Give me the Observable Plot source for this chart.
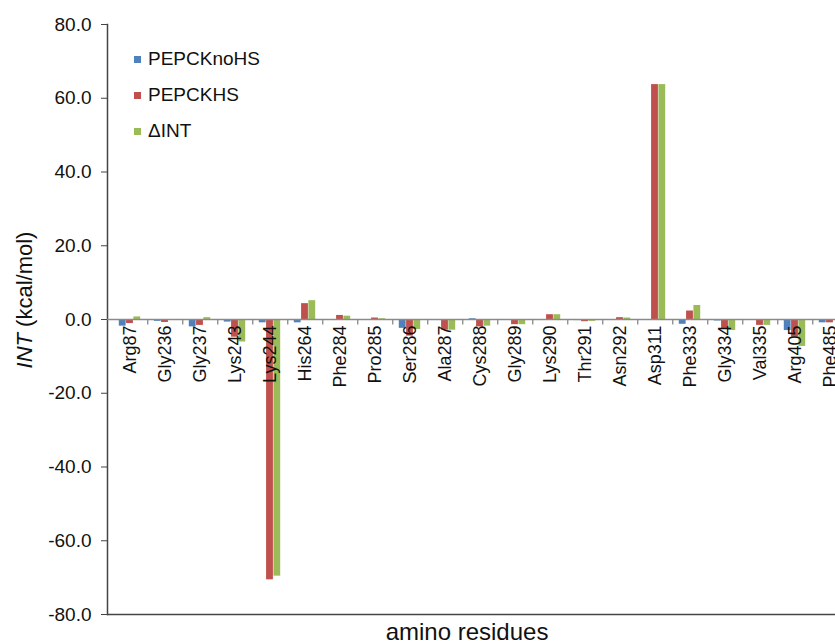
<!DOCTYPE html>
<html><head><meta charset="utf-8">
<script src="https://cdn.jsdelivr.net/npm/d3@7"></script>
<script src="https://cdn.jsdelivr.net/npm/@observablehq/plot@0.6"></script>
<style>
html,body{margin:0;padding:0;background:#fff;overflow:hidden;}
#wrap{position:relative;width:835px;height:642px;overflow:hidden;}
.legend{position:absolute;left:134px;top:41px;font:19px "Liberation Sans",Arial,sans-serif;color:#111;}
.legend .row{display:flex;align-items:center;height:36px;}
.legend .sw{display:inline-block;width:7px;height:7px;margin-right:7px;}
</style></head><body><div id="wrap"></div>
<script>
const residues = ["Arg87","Gly236","Gly237","Lys243","Lys244","His264","Phe284","Pro285","Ser286","Ala287","Cys288","Gly289","Lys290","Thr291","Asn292","Asp311","Phe333","Gly334","Val335","Arg405","Phe485"];
const seriesNames = ["PEPCKnoHS","PEPCKHS","ΔINT"];
const noHS = [-1.8,-0.5,-2.0,-0.7,-0.9,-0.9,-0.2,-0.1,-2.4,-0.1,0.2,-0.2,-0.1,-0.3,-0.1,-0.1,-1.3,-0.4,-0.1,-3.0,-0.9];
const hs   = [-1.1,-0.8,-1.6,-4.8,-70.6,4.3,1.1,0.4,-4.5,-2.9,-2.0,-1.4,1.3,-0.6,0.5,63.7,2.3,-2.7,-1.6,-4.8,-0.9];
const dInt = [0.7,-0.2,0.5,-6.1,-69.6,5.1,0.9,0.2,-2.7,-2.9,-1.8,-1.4,1.3,-0.5,0.4,63.7,3.8,-3.0,-1.6,-7.3,0.0];
const yTicks = [-80,-60,-40,-20,0,20,40,60,80];
const colors = ["#4F81BD","#C0504D","#9BBB59"];

const values = [noHS, hs, dInt];
const data = residues.flatMap((r, i) => seriesNames.map((s, k) => ({residue: r, series: s, value: values[k][i]})));

const W = 835, H = 642, mLeft = 107, xEnd = 852, mTop = 24, mBottom = 28;
const step = (xEnd - mLeft) / residues.length;
const barW = 7.3;
const inset = (step - barW) / 2;
const font = '"Liberation Sans", Arial, sans-serif';

const plot = Plot.plot({
  width: W, height: H,
  marginLeft: mLeft, marginRight: 0, marginTop: mTop, marginBottom: mBottom,
  style: {fontFamily: font, fontSize: "19px", background: "white", color: "#111"},
  x: {domain: residues, range: [mLeft, xEnd], padding: 0, axis: null},
  y: {domain: [-80, 80], axis: null},
  color: {domain: seriesNames, range: colors},
  marks: [
    Plot.axisY({ticks: yTicks, tickFormat: d => d.toFixed(1), tickSize: 6, tickPadding: 10, label: null, stroke: "#444", fontSize: 19}),
    Plot.frame({anchor: "left", stroke: "#444", strokeWidth: 1.5}),
    Plot.ruleY([-80], {stroke: "#444", strokeWidth: 1.5}),
    ...seriesNames.map((s, k) => Plot.barY(data.filter(d => d.series === s), {
      x: "residue", y: "value", fill: "series", insetLeft: inset, insetRight: inset, dx: (k - 1) * barW
    })),
    Plot.ruleY([0], {stroke: "#8a8a8a", strokeWidth: 1.5}),
    Plot.ruleX(residues, {x: d => d, y1: 0, y2: -1.5, dx: step / 2, stroke: "#8a8a8a", strokeWidth: 1.3}),
    Plot.text(residues, {x: d => d, y: 0, text: d => d, rotate: -90, textAnchor: "end", dy: 6, fontSize: 18, fill: "#111"})
  ]
});

const svg = d3.select(plot);
const yl = svg.append("text")
  .attr("transform", "translate(32,300) rotate(-90)")
  .attr("text-anchor", "middle")
  .attr("font-family", font).attr("font-size", 22).attr("fill", "#111");
yl.append("tspan").attr("font-style", "italic").text("INT");
yl.append("tspan").text(" (kcal/mol)");
svg.append("text")
  .attr("x", 467).attr("y", 640)
  .attr("text-anchor", "middle")
  .attr("font-family", font).attr("font-size", 24).attr("fill", "#111")
  .text("amino residues");

const wrap = document.getElementById("wrap");
wrap.appendChild(plot);
const legend = document.createElement("div");
legend.className = "legend";
seriesNames.forEach((s, k) => {
  const row = document.createElement("div");
  row.className = "row";
  const sw = document.createElement("span");
  sw.className = "sw";
  sw.style.background = colors[k];
  row.appendChild(sw);
  row.appendChild(document.createTextNode(s));
  legend.appendChild(row);
});
wrap.appendChild(legend);
</script>
</body></html>
